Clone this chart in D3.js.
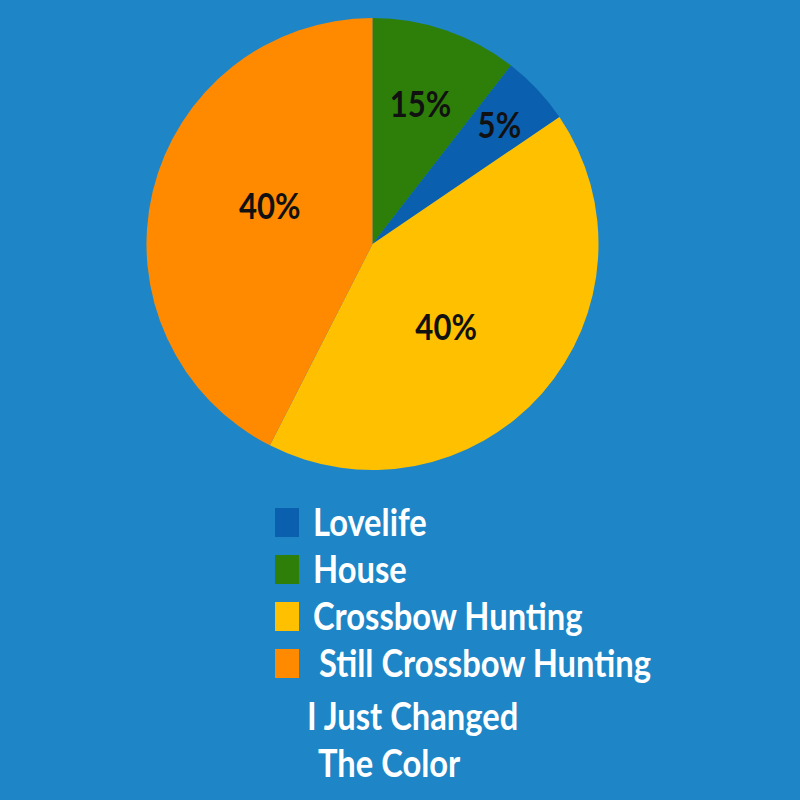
<!DOCTYPE html>
<html>
<head>
<meta charset="utf-8">
<script src="https://cdn.jsdelivr.net/npm/d3@7"></script>
<style>
  html, body { margin: 0; padding: 0; background: #1E86C6; }
  svg { display: block; }
</style>
</head>
<body>
<svg id="chart" width="800" height="800"></svg>
<script>
// ---- data ----
const categories = ["Lovelife", "House", "Crossbow Hunting", "Still Crossbow Hunting"];
const shares = [5, 10.5, 42, 42.5];              // slice sizes as drawn
const labels = ["5%", "15%", "40%", "40%"];       // labels printed on the slices
const colors = ["#0A5FAF", "#2E7F09", "#FFC000", "#FF8A00"];
const sliceOrder = ["House", "Lovelife", "Crossbow Hunting", "Still Crossbow Hunting"];
const noteLines = ["I Just Changed", "The Color"];

// ---- layout ----
const svg = d3.select("#chart");
const cx = 372.5, cy = 244, R = 226;
const FONT = "Lato, 'Open Sans', sans-serif";

const rows = categories.map((c, i) => ({ name: c, value: shares[i], label: labels[i], color: colors[i] }));
const ordered = sliceOrder.map(n => rows.find(r => r.name === n));

const pie = d3.pie().sort(null).value(d => d.value);
const arc = d3.arc().innerRadius(0).outerRadius(R);
const arcs = pie(ordered);

const g = svg.append("g").attr("transform", `translate(${cx},${cy})`);
g.selectAll("path").data(arcs).join("path")
  .attr("d", arc)
  .attr("fill", d => d.data.color);

// labels at the sector's centroid (small slices pushed outward)
g.selectAll("text.pct").data(arcs).join("text")
  .attr("class", "pct")
  .attr("transform", d => {
    const theta = d.endAngle - d.startAngle;
    const mid = (d.startAngle + d.endAngle) / 2 + (theta > 2 ? 0.12 : 0);
    let dist = theta < 0.4 ? R * 0.77 : (2 * R * Math.sin(theta / 2)) / (1.5 * theta);
    return `translate(${dist * Math.sin(mid)},${-dist * Math.cos(mid)})`;
  })
  .attr("text-anchor", "middle")
  .attr("dy", "0.36em")
  .attr("font-family", FONT)
  .attr("font-weight", "bold")
  .attr("font-size", 37)
  .attr("fill", "#111")
  .text(d => d.data.label)
  .each(function () {
    const w = this.getComputedTextLength();
    this.setAttribute("textLength", w * 0.84);
    this.setAttribute("lengthAdjust", "spacingAndGlyphs");
  });

// ---- legend ----
const leg = svg.append("g");
const legY = d3.scaleLinear().domain([0, 1]).range([508, 555]);
const items = leg.selectAll("g.item").data(rows).join("g").attr("class", "item")
  .attr("transform", (d, i) => `translate(275,${legY(i)})`);
items.append("rect").attr("width", 24).attr("height", 29).attr("fill", d => d.color);
items.append("text")
  .attr("x", (d, i) => i === 3 ? 44 : 38)
  .attr("y", 28)
  .attr("font-family", FONT)
  .attr("font-weight", "bold")
  .attr("font-size", 38)
  .attr("fill", "#fff")
  .text(d => d.name);

const noteX = [307, 318];
leg.selectAll("text.note").data(noteLines).join("text")
  .attr("class", "note")
  .attr("x", (d, i) => noteX[i])
  .attr("y", (d, i) => 730 + i * 47)
  .attr("font-family", FONT)
  .attr("font-weight", "bold")
  .attr("font-size", 38)
  .attr("fill", "#fff")
  .text(d => d);

leg.selectAll("text").each(function () {
  const w = this.getComputedTextLength();
  this.setAttribute("textLength", w * 0.86);
  this.setAttribute("lengthAdjust", "spacingAndGlyphs");
});
</script>
</body>
</html>
